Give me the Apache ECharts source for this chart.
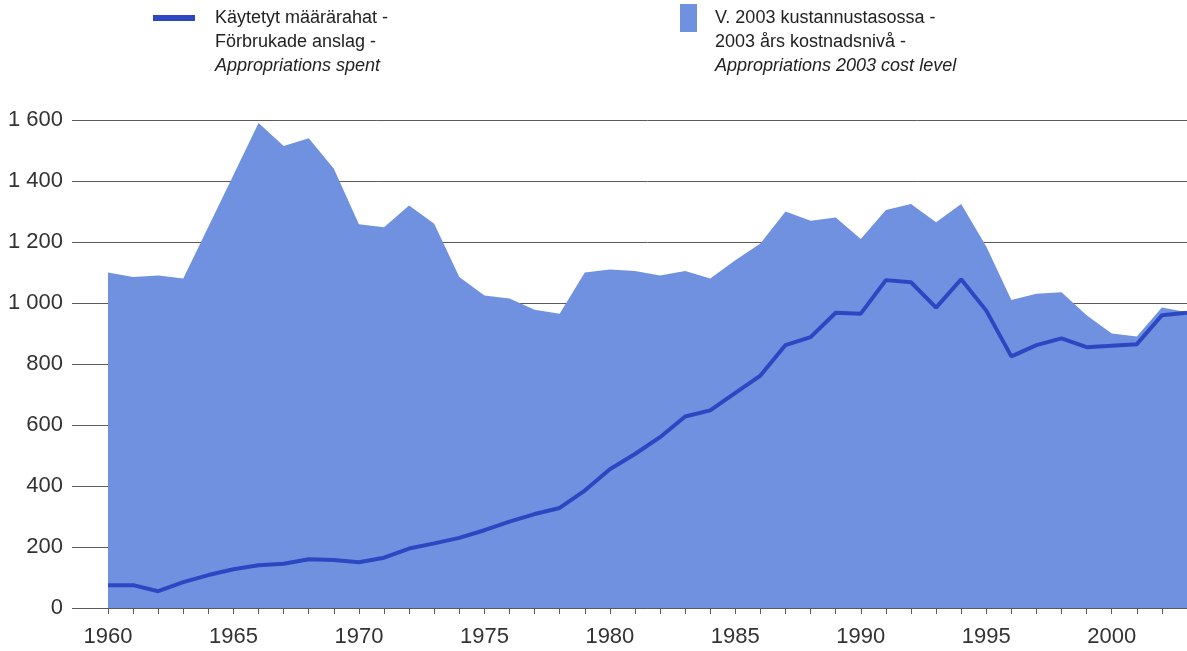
<!DOCTYPE html>
<html>
<head>
<meta charset="utf-8">
<script src="https://cdn.jsdelivr.net/npm/echarts@6/dist/echarts.min.js"></script>
<style>
  html, body { margin: 0; padding: 0; background: #fff; }
  #chart { width: 1187px; height: 651px; }
</style>
</head>
<body>
<div id="chart"></div>
<script>
// 数据
var years = ['1960', '1961', '1962', '1963', '1964', '1965', '1966', '1967', '1968', '1969',
  '1970', '1971', '1972', '1973', '1974', '1975', '1976', '1977', '1978', '1979',
  '1980', '1981', '1982', '1983', '1984', '1985', '1986', '1987', '1988', '1989',
  '1990', '1991', '1992', '1993', '1994', '1995', '1996', '1997', '1998', '1999',
  '2000', '2001', '2002', '2003'];
// V. 2003 kustannustasossa
var costLevel = [1100, 1085, 1090, 1080, 1250, 1420, 1590, 1515, 1540, 1440,
  1258, 1248, 1320, 1260, 1085, 1025, 1015, 978, 965, 1100,
  1110, 1105, 1090, 1105, 1080, 1140, 1195, 1300, 1270, 1280,
  1210, 1305, 1325, 1265, 1325, 1185, 1010, 1030, 1035, 960,
  900, 890, 985, 970];
// Käytetyt määrärahat
var spent = [75, 75, 55, 85, 108, 127, 140, 145, 160, 157,
  150, 165, 195, 212, 230, 255, 283, 308, 328, 385,
  455, 505, 560, 628, 648, 705, 762, 862, 888, 968,
  965, 1075, 1068, 985, 1078, 975, 825, 862, 884, 855,
  860, 865, 960, 968];
var yTicks = [0, 200, 400, 600, 800, 1000, 1200, 1400, 1600];

var spentName = 'Käytetyt määrärahat';
var costName = 'V. 2003 kustannustasossa';
var spentLines = ['Käytetyt määrärahat -', 'Förbrukade anslag -', 'Appropriations spent'];
var costLines = ['V. 2003 kustannustasossa -', '2003 års kostnadsnivå -', 'Appropriations 2003 cost level'];

(function() {
  var myChart = echarts.init(document.getElementById('chart'));
  var font = "'Liberation Sans', Arial, sans-serif";
  var lineColor = '#2b48c2';
  var areaColor = '#7090e0';
  var gridColor = '#5a5a5a';

  //图例文字（三行，最后一行斜体）
  var legendRich = {
    a: { fontFamily: font, fontSize: 18, lineHeight: 24, fill: '#222' },
    i: { fontFamily: font, fontSize: 18, lineHeight: 24, fill: '#222', fontStyle: 'italic' }
  };
  function legendLabel(lines) {
    return '{a|' + lines[0] + '}\n{a|' + lines[1] + '}\n{i|' + lines[2] + '}';
  }

  var option = {
    backgroundColor: '#fff',
    animation: false,
    legend: { show: false, data: [spentName, costName] },
    graphic: [
      {
        type: 'rect',
        left: 153,
        top: 15,
        shape: { width: 42, height: 6 },
        style: { fill: lineColor }
      },
      {
        type: 'text',
        left: 215,
        top: 9,
        style: { text: legendLabel(spentLines), rich: legendRich, fill: '#222' }
      },
      {
        type: 'rect',
        left: 680,
        top: 4,
        shape: { width: 17, height: 28 },
        style: { fill: areaColor }
      },
      {
        type: 'text',
        left: 715,
        top: 9,
        style: { text: legendLabel(costLines), rich: legendRich, fill: '#222' }
      }
    ],
    grid: {
      left: 108,
      right: 0,
      top: 120,
      bottom: 43,
      containLabel: false
    },
    xAxis: {
      type: 'category',
      data: years,
      boundaryGap: false,
      axisLine: {
        show: true,
        lineStyle: { color: gridColor, width: 1 }
      },
      axisTick: {
        show: true,
        interval: 0,
        length: 6,
        lineStyle: { color: gridColor }
      },
      axisLabel: {
        interval: 4,
        margin: 18,
        color: '#333',
        fontFamily: font,
        fontSize: 22
      },
      splitLine: { show: false }
    },
    yAxis: {
      type: 'value',
      min: yTicks[0],
      max: yTicks[yTicks.length - 1],
      interval: yTicks[1] - yTicks[0],
      axisLine: { show: false },
      //刻度线向左延伸
      axisTick: {
        show: true,
        length: 36,
        lineStyle: { color: gridColor, width: 1 }
      },
      axisLabel: {
        margin: 45,
        color: '#333',
        fontFamily: font,
        fontSize: 22,
        formatter: function(v) {
          return String(v).replace(/\B(?=(\d{3})+(?!\d))/g, ' ');
        }
      },
      splitLine: {
        lineStyle: { color: gridColor, width: 1 }
      }
    },
    series: [
      {
        name: costName,
        type: 'line',
        data: costLevel,
        symbol: 'none',
        showSymbol: false,
        itemStyle: { color: areaColor },
        lineStyle: { width: 0, color: areaColor },
        areaStyle: { color: areaColor, opacity: 1 },
        z: 2
      },
      {
        name: spentName,
        type: 'line',
        data: spent,
        symbol: 'none',
        showSymbol: false,
        itemStyle: { color: lineColor },
        lineStyle: { width: 4, color: lineColor },
        z: 3
      }
    ]
  };
  myChart.setOption(option);
  window.addEventListener('resize', function() {
    myChart.resize();
  });
})();
</script>
</body>
</html>
